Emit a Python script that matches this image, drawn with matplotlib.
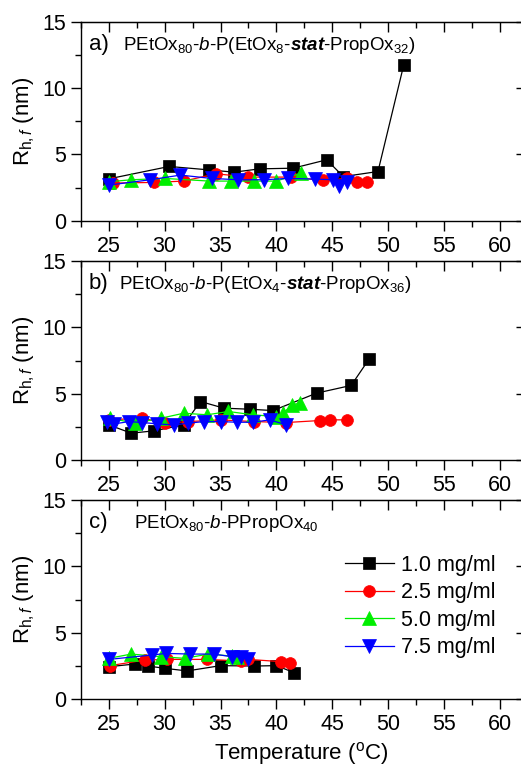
import matplotlib
matplotlib.use("Agg")
import matplotlib.pyplot as plt
from matplotlib.ticker import MultipleLocator

plt.rcParams['font.family'] = ['Liberation Sans', 'DejaVu Sans']
plt.rcParams['mathtext.fontset'] = 'custom'
plt.rcParams['mathtext.default'] = 'regular'
plt.rcParams['mathtext.rm'] = 'Liberation Sans'
plt.rcParams['mathtext.it'] = 'Liberation Sans:italic'
plt.rcParams['mathtext.bf'] = 'Liberation Sans:bold'
plt.rcParams['mathtext.bfit'] = 'Liberation Sans:bold:italic'

labels = ['1.0 mg/ml', '2.5 mg/ml', '5.0 mg/ml', '7.5 mg/ml']
colors = ['black', '#ff0000', '#00ee00', '#0000ff']
markers = ['s', 'o', '^', 'v']

# panel a: PEtOx80-b-P(EtOx8-stat-PropOx32)
a_t1 = [25.0, 30.4, 34.0, 36.2, 38.5, 41.5, 44.5, 46.0, 49.1, 51.4]
a_r1 = [3.17, 4.10, 3.84, 3.67, 3.92, 3.97, 4.60, 3.34, 3.72, 11.71]
a_t2 = [25.4, 29.0, 31.7, 34.6, 37.5, 41.3, 44.2, 46.3, 47.2, 48.1]
a_r2 = [2.85, 2.9, 3.0, 3.55, 3.3, 3.3, 3.05, 3.2, 2.9, 2.9]
a_t3 = [25.0, 27.0, 30.0, 34.0, 35.9, 38.0, 40.0, 42.2]
a_r3 = [2.95, 3.1, 3.2, 3.0, 3.0, 3.0, 3.0, 3.6]
a_t4 = [25.0, 28.7, 31.4, 34.2, 36.6, 38.9, 41.0, 43.5, 45.1, 45.6, 46.3]
a_r4 = [2.7, 3.1, 3.45, 3.2, 3.1, 3.1, 3.2, 3.15, 3.1, 2.6, 2.95]

# panel b: PEtOx80-b-P(EtOx4-stat-PropOx36)
b_t1 = [25.0, 27.0, 29.0, 31.7, 33.2, 35.3, 37.6, 39.7, 43.6, 46.7, 48.3]
b_r1 = [2.66, 2.04, 2.21, 2.66, 4.42, 3.92, 3.84, 3.74, 5.05, 5.63, 7.61]
b_t2 = [25.0, 28.0, 30.0, 32.1, 35.0, 38.0, 40.9, 43.9, 44.8, 46.3]
b_r2 = [3.04, 3.17, 2.79, 2.91, 3.04, 2.91, 2.84, 2.99, 3.04, 3.04]
b_t3 = [25.1, 27.3, 29.7, 31.7, 33.8, 35.7, 37.9, 40.0, 40.6, 41.4, 42.1]
b_r3 = [3.17, 2.79, 3.17, 3.54, 3.42, 3.67, 3.42, 3.29, 3.54, 4.17, 4.30]
b_t4 = [24.8, 25.5, 26.8, 28.0, 29.3, 30.8, 32.1, 33.5, 35.0, 36.5, 37.9, 39.4, 40.9]
b_r4 = [2.91, 2.74, 2.91, 2.84, 2.74, 2.66, 2.79, 2.91, 2.91, 2.86, 2.86, 3.04, 2.66]

# panel c: PEtOx80-b-PPropOx40
c_t1 = [25.0, 27.3, 28.5, 30.0, 32.0, 35.0, 38.0, 40.0, 41.6]
c_r1 = [2.45, 2.65, 2.5, 2.33, 2.13, 2.53, 2.5, 2.53, 2.0]
c_t2 = [25.1, 28.2, 30.2, 33.8, 36.8, 37.5, 40.4, 41.2]
c_r2 = [2.53, 2.95, 3.0, 3.0, 2.88, 3.0, 2.83, 2.7]
c_t3 = [25.0, 27.0, 29.7, 31.8, 33.9, 36.0, 36.5]
c_r3 = [3.08, 3.4, 3.2, 3.08, 3.4, 3.25, 3.2]
c_t4 = [25.0, 28.9, 30.1, 32.3, 34.4, 36.0, 36.8, 37.5]
c_r4 = [3.0, 3.33, 3.45, 3.4, 3.4, 3.2, 3.2, 3.0]

panels = [
    ('a)', r'PEtOx$_{80}$-$\mathit{b}$-P(EtOx$_{8}$-$\mathbfit{stat}$-PropOx$_{32}$)',
     [(a_t1, a_r1), (a_t2, a_r2), (a_t3, a_r3), (a_t4, a_r4)], 0.7119, 0.095),
    ('b)', r'PEtOx$_{80}$-$\mathit{b}$-P(EtOx$_{4}$-$\mathbfit{stat}$-PropOx$_{36}$)',
     [(b_t1, b_r1), (b_t2, b_r2), (b_t3, b_r3), (b_t4, b_r4)], 0.3999, 0.086),
    ('c)', r'PEtOx$_{80}$-$\mathit{b}$-PPropOx$_{40}$',
     [(c_t1, c_r1), (c_t2, c_r2), (c_t3, c_r3), (c_t4, c_r4)], 0.0883, 0.120),
]

fig = plt.figure(figsize=(5.21, 7.67), dpi=100)

for letter, title, series, bottom, title_x in panels:
    ax = fig.add_axes([81 / 521, bottom, 441 / 521, 0.2600])
    for (t, r), col, mk, lab in zip(series, colors, markers, labels):
        ms = 9.5 if mk in ('^', 'v') else 8.5
        ax.plot(t, r, color=col, marker=mk, markersize=ms, linewidth=0.9,
                markeredgewidth=0.5, markeredgecolor=col, label=lab)
    ax.set_xlim(22.5, 62)
    ax.set_ylim(0, 15)
    ax.xaxis.set_minor_locator(MultipleLocator(2.5))
    ax.yaxis.set_major_locator(MultipleLocator(5))
    ax.yaxis.set_minor_locator(MultipleLocator(2.5))
    ax.set_xticks(range(25, 61, 5))
    ax.tick_params(which='both', labelsize=15.5, width=1.0)
    ax.tick_params(which='major', length=7)
    ax.tick_params(which='minor', length=4)
    ax.tick_params(axis='both', which='both', direction='out', top=False, right=False)
    for s in ax.spines.values():
        s.set_linewidth(1.0)
    # inward ticks on top and right like the original
    sec = ax.secondary_xaxis('top')
    sec.set_xticks(range(25, 61, 5))
    sec.xaxis.set_minor_locator(MultipleLocator(2.5))
    sec.tick_params(which='both', direction='in', labeltop=False, width=1.0)
    sec.tick_params(which='major', length=7)
    sec.tick_params(which='minor', length=4)
    secy = ax.secondary_yaxis('right')
    secy.set_yticks([0, 5, 10, 15])
    secy.tick_params(which='both', direction='in', labelright=False, width=1.0, length=4)
    ax.set_ylabel(r'R$_{h,\mathit{f}}$ (nm)', fontsize=16, labelpad=4)
    ax.text(0.018, 0.885, letter, transform=ax.transAxes, fontsize=16, va='center')
    ax.text(title_x, 0.88, title, transform=ax.transAxes, fontsize=13.5, va='center')
    if letter == 'c)':
        ax.set_xlabel(r'Temperature ($^{o}$C)', fontsize=16, labelpad=4)
        ax.legend(loc='upper left', bbox_to_anchor=(0.598, 0.725), frameon=False,
                  fontsize=15.5, handlelength=2.3, handletextpad=0.3,
                  labelspacing=0.3, borderpad=0, borderaxespad=0)

fig.savefig('out.png', dpi=100)
